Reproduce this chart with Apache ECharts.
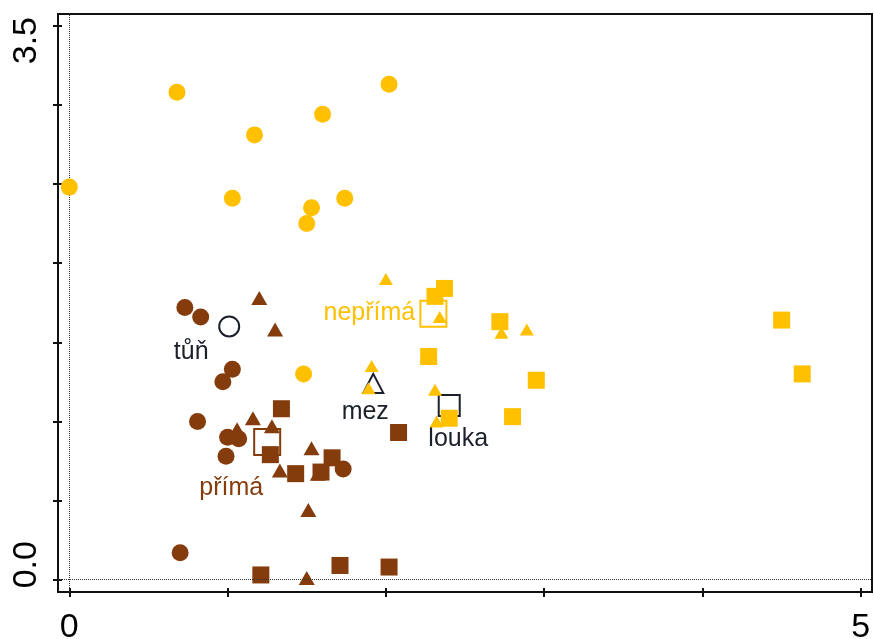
<!DOCTYPE html>
<html>
<head>
<meta charset="utf-8">
<script src="https://cdn.jsdelivr.net/npm/echarts@6/dist/echarts.min.js"></script>
<style>
  html, body { margin: 0; padding: 0; background: #fff; }
  #chart { width: 874px; height: 639px; }
</style>
</head>
<body>
<div id="chart"></div>
<script>
// Ordination scores: direct (přímá) vs. indirect (nepřímá) samples by habitat
const primaTun = [[0.73,1.72],[0.83,1.66],[1.03,1.33],[0.97,1.25],[0.81,1.00],[1.00,0.90],[1.07,0.89],[0.99,0.78],[1.73,0.70],[0.70,0.17]];
const primaMez = [[1.20,1.78],[1.30,1.58],[1.16,1.02],[1.06,0.95],[1.28,0.97],[1.53,0.83],[1.33,0.69],[1.57,0.67],[1.51,0.44],[1.50,0.01]];
const primaLouka = [[1.34,1.08],[1.27,0.79],[1.43,0.67],[1.66,0.77],[1.59,0.68],[2.08,0.93],[1.21,0.03],[1.71,0.09],[2.02,0.08]];
const neprimaTun = [[0.00,2.48],[0.68,3.08],[1.17,2.81],[1.60,2.94],[2.02,3.13],[1.03,2.41],[1.74,2.41],[1.53,2.35],[1.50,2.25],[1.48,1.30]];
const neprimaMez = [[2.00,1.90],[2.34,1.66],[2.73,1.56],[2.89,1.58],[1.91,1.35],[1.89,1.21],[2.31,1.20],[2.32,1.00]];
const neprimaLouka = [[2.37,1.84],[2.31,1.79],[2.27,1.41],[2.72,1.63],[2.95,1.26],[2.80,1.03],[2.40,1.02],[4.50,1.64],[4.63,1.30]];

// Group centroids
const habitatNames = ['tůň', 'mez', 'louka'];
const habitatCentroids = [[1.01,1.60],[1.92,1.24],[2.40,1.10]];
const treatmentNames = ['přímá', 'nepřímá'];
const treatmentCentroids = [[1.25,0.87],[2.30,1.68]];

// Axis ticks and labelled values
const xTicks = [0, 1, 2, 3, 4, 5];
const xLabels = [0, 5];
const yTicks = [0, 0.5, 1, 1.5, 2, 2.5, 3, 3.5];
const yLabels = [0, 3.5];

const BROWN = '#843C0C';
const GOLD = '#FFC000';
const INK = '#1b202b';
const FONT = 'Liberation Sans, Arial, sans-serif';

const X_MIN = -0.0714, X_MAX = 5.0707;
const Y_MIN = -0.0777, Y_MAX = 3.5736;

function pts(name, data, symbol, color, size, z) {
  return {
    name, type: 'scatter', data, symbol, symbolSize: size, z,
    itemStyle: { color, opacity: 1 },
    emphasis: { disabled: true },
    silent: true
  };
}

const labelOffsets = {
  'tůň': [-38, 26], 'mez': [-8, 29], 'louka': [9, 34],
  'přímá': [-36, 46], 'nepřímá': [-64, -1]
};

const habitatSymbols = [
  { symbol: 'circle', size: 20 },
  { symbol: 'triangle', size: [20, 19] },
  { symbol: 'rect', size: 21 }
];

const habitatData = habitatNames.map((n, i) => ({
  name: n,
  value: habitatCentroids[i],
  symbol: habitatSymbols[i].symbol,
  symbolSize: habitatSymbols[i].size,
  itemStyle: { color: 'rgba(0,0,0,0)', borderColor: INK, borderWidth: 2, opacity: 1 },
  label: { offset: labelOffsets[n], color: INK }
}));

const treatmentColors = [BROWN, GOLD];
const treatmentData = treatmentNames.map((n, i) => ({
  name: n,
  value: treatmentCentroids[i],
  itemStyle: { color: 'rgba(0,0,0,0)', borderColor: treatmentColors[i], borderWidth: 2, opacity: 1 },
  label: { offset: labelOffsets[n], color: treatmentColors[i] }
}));

const centroidLabel = {
  show: true, position: 'inside', formatter: '{b}',
  fontFamily: FONT, fontSize: 25, align: 'center', verticalAlign: 'middle', opacity: 1
};

const tickLabelStyle = { fontFamily: FONT, fontSize: 34, color: '#000' };

const chart = echarts.init(document.getElementById('chart'), null, { renderer: 'canvas' });
chart.setOption({
  animation: false,
  backgroundColor: '#fff',
  grid: {
    left: 58, right: 2, top: 14, bottom: 47,
    containLabel: false, outerBoundsMode: 'none',
    show: true, borderColor: '#111', borderWidth: 2, backgroundColor: 'transparent'
  },
  xAxis: [{
    type: 'value', min: X_MIN, max: X_MAX, position: 'bottom',
    splitLine: { show: false },
    axisLine: { show: true, onZero: false, lineStyle: { color: '#111', width: 2 } },
    axisTick: { show: true, customValues: xTicks, length: 5, lineStyle: { color: '#111', width: 2 } },
    axisLabel: {
      show: true, customValues: xLabels, margin: 19, ...tickLabelStyle,
      formatter: v => String(Math.round(v))
    }
  }, {
    type: 'value', min: X_MIN, max: X_MAX, position: 'bottom', offset: 0,
    splitLine: { show: false },
    axisLine: { show: false, onZero: false },
    axisTick: { show: true, inside: true, customValues: xTicks, length: 4, lineStyle: { color: '#111', width: 2 } },
    axisLabel: { show: false }
  }],
  yAxis: [{
    type: 'value', min: Y_MIN, max: Y_MAX, position: 'left',
    splitLine: { show: false },
    axisLine: { show: true, onZero: false, lineStyle: { color: '#111', width: 2 } },
    axisTick: { show: true, customValues: yTicks, length: 5, lineStyle: { color: '#111', width: 2 } },
    axisLabel: {
      show: true, customValues: yLabels, rotate: 90, margin: 14, ...tickLabelStyle,
      formatter: v => v === 0 ? '{lo|' + v.toFixed(1) + '}' : '{hi|' + v.toFixed(1) + '}',
      rich: {
        lo: { ...tickLabelStyle, padding: [0, 0, 0, 30] },
        hi: { ...tickLabelStyle, padding: [0, 30, 0, 0] }
      }
    }
  }, {
    type: 'value', min: Y_MIN, max: Y_MAX, position: 'left', offset: 0,
    splitLine: { show: false },
    axisLine: { show: false, onZero: false },
    axisTick: { show: true, inside: true, customValues: yTicks, length: 4, lineStyle: { color: '#111', width: 2 } },
    axisLabel: { show: false }
  }],
  series: [
    {
      name: 'osy', type: 'scatter', data: [], z: 1, silent: true,
      markLine: {
        silent: true, symbol: 'none', animation: false,
        label: { show: false },
        lineStyle: { color: '#333', width: 1, type: [1, 1], opacity: 1 },
        data: [{ xAxis: 0 }, { yAxis: 0 }]
      }
    },
    {
      name: 'stanoviště', type: 'scatter', data: habitatData, z: 2, silent: true,
      itemStyle: { opacity: 1 },
      label: centroidLabel, emphasis: { disabled: true }
    },
    {
      name: 'zásah', type: 'scatter', data: treatmentData, symbol: 'rect', symbolSize: 26, z: 2, silent: true,
      itemStyle: { opacity: 1 },
      label: centroidLabel, emphasis: { disabled: true }
    },
    pts('přímá mez', primaMez, 'triangle', BROWN, [16, 14], 3),
    pts('nepřímá mez', neprimaMez, 'triangle', GOLD, [14, 12], 3),
    pts('přímá louka', primaLouka, 'rect', BROWN, 17, 4),
    pts('nepřímá louka', neprimaLouka, 'rect', GOLD, 17, 4),
    pts('přímá tůň', primaTun, 'circle', BROWN, 17, 5),
    pts('nepřímá tůň', neprimaTun, 'circle', GOLD, 17, 5)
  ]
});
</script>
</body>
</html>
